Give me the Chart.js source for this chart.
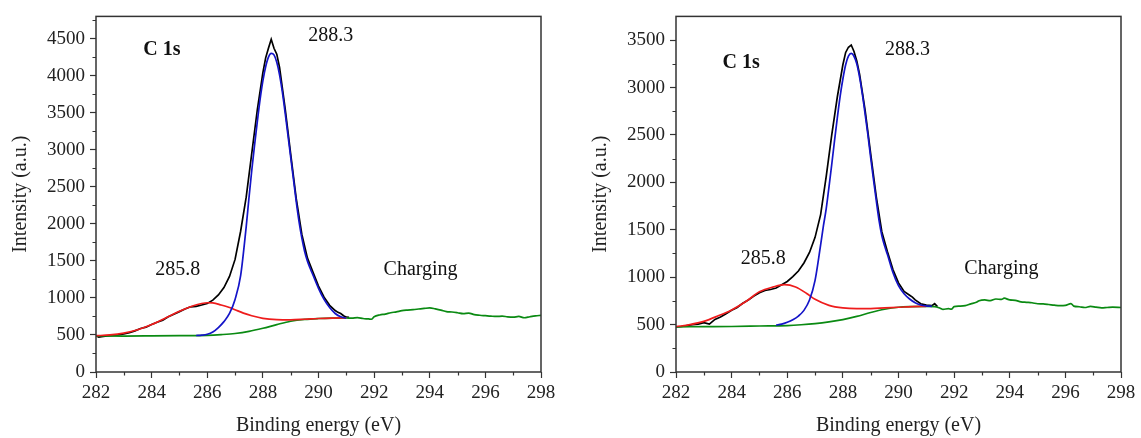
<!DOCTYPE html>
<html>
<head>
<meta charset="utf-8">
<script src="https://cdn.jsdelivr.net/npm/chart.js@4.4.0/dist/chart.umd.min.js"></script>
<style>
  html, body { margin: 0; padding: 0; background: #fff; }
  #wrap { position: relative; width: 1141px; height: 438px; overflow: hidden; }
  canvas { position: absolute; top: 0; }
  #leftChart { left: 0; }
  #rightChart { left: 580px; }
</style>
</head>
<body>
<div id="wrap">
  <canvas id="leftChart" width="580" height="438"></canvas>
  <canvas id="rightChart" width="561" height="438"></canvas>
</div>
<script>
// shared axis ticks
const xTicks = [282, 284, 286, 288, 290, 292, 294, 296, 298];
const xMinorTicks = [283, 285, 287, 289, 291, 293, 295, 297];
const leftYTicks = [0, 500, 1000, 1500, 2000, 2500, 3000, 3500, 4000, 4500];
const leftYMinor = [250, 750, 1250, 1750, 2250, 2750, 3250, 3750, 4250, 4750];
const rightYTicks = [0, 500, 1000, 1500, 2000, 2500, 3000, 3500];
const rightYMinor = [250, 750, 1250, 1750, 2250, 2750, 3250];

// ---- left panel ----
const leftBlackE = [282.0, 282.1, 282.2, 282.4, 282.6, 282.8, 283.0, 283.2, 283.4, 283.6, 283.8, 284.0, 284.2, 284.4, 284.6, 284.8,
  285.0, 285.2, 285.4, 285.6, 285.8, 286.0, 286.2, 286.4, 286.6, 286.8, 287.0, 287.2, 287.4, 287.6, 287.8, 288.0, 288.1, 288.2,
  288.3, 288.4, 288.5, 288.6, 288.8, 289.0, 289.2, 289.4, 289.6, 289.8, 290.0, 290.2, 290.4, 290.6, 290.7, 290.8, 290.9, 291.0, 291.1];
const leftBlackI = [490, 470, 478, 488, 495, 500, 515, 530, 555, 588, 605, 640, 672, 700, 745, 780,
  815, 850, 880, 885, 905, 925, 970, 1040, 1140, 1290, 1520, 1900, 2360, 2950, 3540, 4040, 4240, 4370,
  4490, 4370, 4290, 4110, 3560, 2940, 2340, 1860, 1540, 1350, 1160, 1010, 900, 830, 805, 790, 760, 740, 738];

const leftBlueE = [285.6, 285.8, 286.0, 286.2, 286.4, 286.6, 286.8, 287.0, 287.2, 287.4, 287.5, 287.6, 287.7, 287.8, 287.9, 288.0,
  288.1, 288.2, 288.3, 288.4, 288.5, 288.6, 288.7, 288.8, 288.9, 289.0, 289.1, 289.2, 289.3, 289.4, 289.5, 289.6, 289.7, 289.8,
  290.0, 290.2, 290.4, 290.6, 290.8, 291.0];
const leftBlueI = [493, 498, 510, 540, 600, 680, 790, 980, 1300, 1960, 2350, 2720, 3060, 3380, 3680, 3930,
  4120, 4250, 4300, 4280, 4180, 4010, 3780, 3500, 3200, 2900, 2600, 2300, 2030, 1810, 1630, 1500, 1400, 1310,
  1130, 980, 870, 790, 745, 728];

const leftRedE = [282.0, 282.5, 283.0, 283.5, 284.0, 284.5, 285.0, 285.5, 285.8, 286.0, 286.2, 286.5, 286.8, 287.0, 287.3, 287.6,
  288.0, 288.5, 289.0, 289.5, 290.0, 290.5, 291.0];
const leftRedI = [490, 500, 525, 570, 640, 730, 820, 895, 925, 935, 933, 905, 870, 840, 795, 760,
  725, 707, 704, 712, 722, 728, 730];

const leftGreenE = [282.0, 283.0, 284.0, 285.0, 286.0, 286.5, 287.0, 287.5, 288.0, 288.5, 289.0, 289.5, 290.0, 290.5, 291.0,
  291.2, 291.4, 291.6, 291.8, 291.9, 292.0, 292.2, 292.4, 292.6, 292.8, 293.0, 293.2, 293.4, 293.6, 293.8, 294.0, 294.2, 294.4,
  294.6, 294.8, 295.0, 295.2, 295.4, 295.6, 295.8, 296.0, 296.2, 296.4, 296.6, 296.8, 297.0, 297.2, 297.4, 297.6, 297.8, 298.0];
const leftGreenI = [488, 485, 487, 490, 495, 505, 520, 548, 590, 640, 685, 710, 722, 728, 730,
  726, 734, 722, 716, 712, 745, 770, 782, 800, 812, 828, 836, 842, 850, 858, 865, 852, 836,
  815, 810, 800, 788, 796, 774, 766, 760, 754, 750, 754, 744, 740, 750, 732, 746, 758, 765];

// ---- right panel ----
const rightBlackE = [282.0, 282.2, 282.4, 282.6, 282.8, 283.0, 283.2, 283.4, 283.6, 283.8, 284.0, 284.2, 284.4, 284.6, 284.8,
  285.0, 285.2, 285.4, 285.6, 285.8, 286.0, 286.2, 286.4, 286.6, 286.8, 287.0, 287.2, 287.4, 287.6, 287.8, 288.0, 288.1, 288.2,
  288.3, 288.4, 288.5, 288.6, 288.8, 289.0, 289.2, 289.4, 289.6, 289.8, 290.0, 290.2, 290.4, 290.5, 290.6, 290.8, 291.0, 291.2,
  291.3, 291.4];
const rightBlackI = [475, 480, 490, 500, 505, 520, 505, 555, 580, 615, 650, 680, 725, 760, 800,
  835, 860, 870, 885, 920, 955, 1005, 1065, 1150, 1260, 1420, 1660, 2060, 2500, 2900, 3240, 3370, 3425,
  3448, 3380, 3280, 3140, 2760, 2300, 1850, 1480, 1270, 1080, 940, 850, 810, 790, 760, 720, 705, 700,
  720, 690];

const rightBlueE = [285.6, 285.8, 286.0, 286.2, 286.4, 286.6, 286.8, 287.0, 287.2, 287.3, 287.4, 287.5, 287.6, 287.7, 287.8, 287.9,
  288.0, 288.1, 288.2, 288.3, 288.4, 288.5, 288.6, 288.7, 288.8, 288.9, 289.0, 289.1, 289.2, 289.3, 289.4, 289.5, 289.6, 289.8,
  290.0, 290.2, 290.4, 290.6, 290.8, 291.0, 291.2];
const rightBlueI = [495, 505, 525, 552, 590, 650, 759, 966, 1340, 1540, 1720, 1950, 2190, 2440, 2680, 2905,
  3090, 3240, 3330, 3360, 3330, 3250, 3110, 2930, 2720, 2500, 2260, 2030, 1810, 1600, 1440, 1330, 1241, 1050,
  910, 825, 770, 730, 707, 697, 693];

const rightRedE = [282.0, 282.5, 283.0, 283.5, 284.0, 284.5, 285.0, 285.5, 285.9, 286.3, 286.7, 287.0, 287.5, 288.0, 288.5, 289.0,
  289.5, 290.0, 290.5, 291.0];
const rightRedI = [478, 500, 534, 590, 655, 741, 845, 897, 921, 897, 828, 766, 703, 676, 669, 669,
  676, 683, 690, 693];

const rightGreenE = [282.0, 283.0, 284.0, 285.0, 286.0, 286.5, 287.0, 287.5, 288.0, 288.5, 289.0, 289.5, 290.0, 290.5, 291.0,
  291.3, 291.5, 291.6, 291.8, 291.9, 292.0, 292.2, 292.4, 292.6, 292.8, 292.9, 293.1, 293.3, 293.5, 293.7, 293.8, 294.0, 294.2,
  294.4, 294.6, 294.8, 295.0, 295.2, 295.4, 295.6, 295.8, 296.0, 296.2, 296.3, 296.5, 296.7, 296.9, 297.1, 297.3, 297.5, 297.7, 298.0];
const rightGreenI = [476, 478, 480, 485, 490, 498, 510, 528, 552, 586, 628, 662, 683, 690, 693,
  690, 672, 660, 668, 662, 690, 695, 700, 718, 735, 752, 760, 752, 770, 765, 778, 760, 756,
  740, 735, 730, 720, 718, 712, 705, 700, 702, 722, 695, 688, 680, 692, 684, 676, 680, 684, 680];

// annotation text, placed in data coordinates
const leftNotes = [
  { text: 'C 1s', x: 284.37, y: 4350, bold: true },
  { text: '288.3', x: 290.44, y: 4533 },
  { text: '285.8', x: 284.94, y: 1385 },
  { text: 'Charging', x: 293.67, y: 1385 }
];
const rightNotes = [
  { text: 'C 1s', x: 284.34, y: 3260, bold: true },
  { text: '288.3', x: 290.32, y: 3397 },
  { text: '285.8', x: 285.14, y: 1190 },
  { text: 'Charging', x: 293.7, y: 1086 }
];

const FONT = "'Liberation Serif', 'DejaVu Serif', serif";
const INK = '#222';

function pts(xs, ys) {
  return xs.map((x, i) => ({ x: x, y: ys[i] }));
}

// frame, minor ticks and text labels
const framePlugin = {
  id: 'frame',
  afterDraw(chart, args, opts) {
    const { ctx, chartArea: a } = chart;
    const xs = chart.scales.x, ys = chart.scales.y;
    ctx.save();
    ctx.strokeStyle = '#333';
    ctx.lineWidth = 1.5;
    ctx.strokeRect(a.left, a.top, a.right - a.left, a.bottom - a.top);

    ctx.lineWidth = 1.2;
    ctx.beginPath();
    opts.xMinor.forEach(v => {
      const px = Math.round(xs.getPixelForValue(v)) + 0.5;
      ctx.moveTo(px, a.bottom);
      ctx.lineTo(px, a.bottom + 3.5);
    });
    opts.yMinor.forEach(v => {
      const py = Math.round(ys.getPixelForValue(v)) + 0.5;
      ctx.moveTo(a.left, py);
      ctx.lineTo(a.left - 3.5, py);
    });
    ctx.stroke();

    ctx.fillStyle = '#111';
    ctx.textAlign = 'center';
    ctx.textBaseline = 'middle';
    opts.notes.forEach(n => {
      ctx.font = (n.bold ? 'bold ' : '') + '20px ' + FONT;
      ctx.fillText(n.text, xs.getPixelForValue(n.x), ys.getPixelForValue(n.y));
    });
    ctx.restore();
  }
};

function makeChart(id, p) {
  const line = (data, color, order, smooth) => ({
    data: data,
    borderColor: color,
    borderWidth: 1.7,
    pointRadius: 0,
    showLine: true,
    fill: false,
    order: order,
    tension: smooth ? 0.4 : 0,
    cubicInterpolationMode: smooth ? 'monotone' : 'default'
  });

  return new Chart(document.getElementById(id), {
    type: 'scatter',
    data: {
      datasets: [
        line(pts(p.blackE, p.blackI), '#000000', 3, false),
        line(pts(p.greenE, p.greenI), '#0a8a12', 2, true),
        line(pts(p.redE, p.redI), '#ee1c1c', 1, true),
        line(pts(p.blueE, p.blueI), '#1414c8', 0, true)
      ]
    },
    options: {
      responsive: false,
      animation: false,
      devicePixelRatio: 1,
      layout: { padding: { top: 13, right: p.padRight, left: 0, bottom: 0 } },
      plugins: {
        legend: { display: false },
        tooltip: { enabled: false },
        frame: { xMinor: xMinorTicks, yMinor: p.yMinor, notes: p.notes }
      },
      scales: {
        x: {
          type: 'linear',
          min: 282,
          max: 298,
          afterBuildTicks: s => { s.ticks = xTicks.map(v => ({ value: v })); },
          afterFit: s => { s.height = 66; },
          grid: { drawOnChartArea: false, tickLength: 6, tickColor: '#333', tickWidth: 1.2 },
          border: { display: false },
          ticks: { color: INK, padding: 4, font: { family: FONT, size: 19 }, maxRotation: 0,
                   callback: v => String(v) },
          title: { display: true, text: 'Binding energy (eV)', color: INK, padding: { top: 0, bottom: 0 },
                   font: { family: FONT, size: 20 } }
        },
        y: {
          type: 'linear',
          min: 0,
          max: p.yMax,
          afterBuildTicks: s => { s.ticks = p.yTicks.map(v => ({ value: v })); },
          afterFit: s => { s.width = 96; },
          grid: { drawOnChartArea: false, tickLength: 6, tickColor: '#333', tickWidth: 1.2 },
          border: { display: false },
          ticks: { color: INK, padding: 5, font: { family: FONT, size: 19 }, callback: v => String(v) },
          title: { display: true, text: 'Intensity (a.u.)', color: INK, padding: { top: 9, bottom: 0 },
                   font: { family: FONT, size: 20 } }
        }
      }
    },
    plugins: [framePlugin]
  });
}

makeChart('leftChart', {
  blackE: leftBlackE, blackI: leftBlackI, blueE: leftBlueE, blueI: leftBlueI,
  redE: leftRedE, redI: leftRedI, greenE: leftGreenE, greenI: leftGreenI,
  yMax: 4800, yTicks: leftYTicks, yMinor: leftYMinor, notes: leftNotes, padRight: 39
});

makeChart('rightChart', {
  blackE: rightBlackE, blackI: rightBlackI, blueE: rightBlueE, blueI: rightBlueI,
  redE: rightRedE, redI: rightRedI, greenE: rightGreenE, greenI: rightGreenI,
  yMax: 3750, yTicks: rightYTicks, yMinor: rightYMinor, notes: rightNotes, padRight: 20
});
</script>
</body>
</html>
